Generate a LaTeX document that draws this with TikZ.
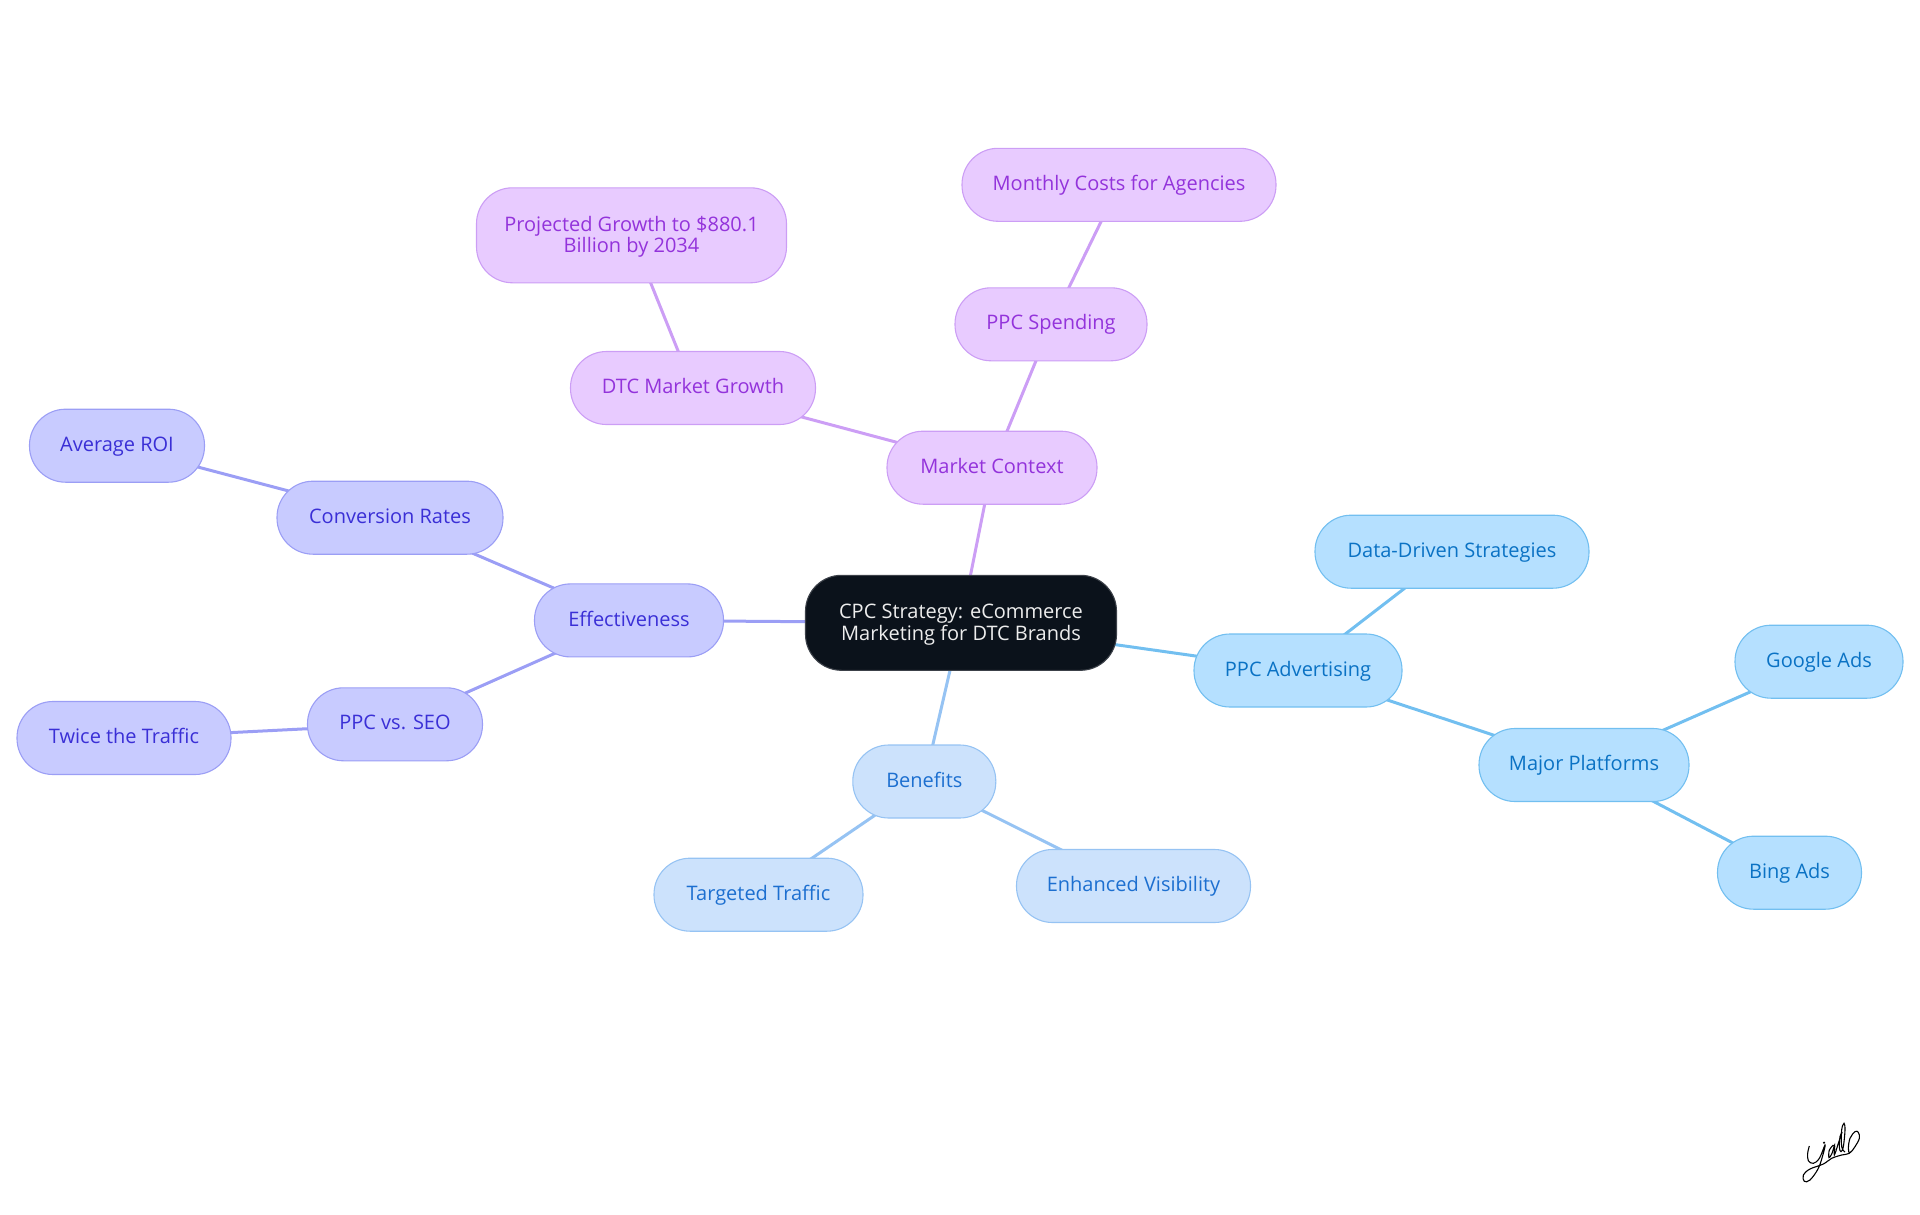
\documentclass[tikz,border=0pt]{standalone}
\usepackage{fontspec}
\setmainfont{Open Sans}
\usetikzlibrary{backgrounds}
\definecolor{rootfill}{HTML}{0B121B}
\definecolor{cyanfill}{HTML}{B5E0FF}
\definecolor{cyanline}{HTML}{72BFF0}
\definecolor{cyantext}{HTML}{0A72C4}
\definecolor{bluefill}{HTML}{CCE2FC}
\definecolor{blueline}{HTML}{96C3F3}
\definecolor{bluetext}{HTML}{1C6FD0}
\definecolor{indfill}{HTML}{C8CBFF}
\definecolor{indline}{HTML}{9B9EF5}
\definecolor{indtext}{HTML}{3A2FD6}
\definecolor{purfill}{HTML}{E8CBFF}
\definecolor{purline}{HTML}{CC9EF5}
\definecolor{purtext}{HTML}{9333DB}
\newcommand{\nodestrut}{\rule[-6.5pt]{0pt}{24.2pt}}
\newcommand{\topstrut}{\rule{0pt}{20pt}}
\tikzstyle{mm} = [rectangle, draw, line width=1.1pt, align=center, rounded corners=36pt,
    minimum height=73pt, inner sep=0pt, font=\fontsize{20}{21.5}\selectfont,
    execute at begin node=\nodestrut, execute at end node=\nodestrut]
\tikzstyle{root} = [mm, fill=rootfill, draw=rootfill!80!white, text=white!93!black, minimum height=95pt]
\tikzstyle{cy} = [mm, fill=cyanfill, draw=cyanline, text=cyantext]
\tikzstyle{bl} = [mm, fill=bluefill, draw=blueline, text=bluetext]
\tikzstyle{ind} = [mm, fill=indfill, draw=indline, text=indtext]
\tikzstyle{pur} = [mm, fill=purfill, draw=purline, text=purtext]

\begin{document}
\begin{tikzpicture}[x=1pt,y=-1pt]
  \useasboundingbox (0,0) rectangle (1920,1215);

  \node[root] (cpc) at (961,622.8) [minimum width=311pt] {\topstrut CPC Strategy: eCommerce\\Marketing for DTC Brands};

  \node[pur] (market) at (992,467.7) [minimum width=210pt] {Market Context};
  \node[pur] (dtc) at (693,388) [minimum width=245pt] {DTC Market Growth};
  \node[pur] (proj) at (631.5,235.3) [minimum width=310pt, minimum height=95pt] {\topstrut Projected Growth to \$880.1\\Billion by 2034};
  \node[pur] (spend) at (1051,324.3) [minimum width=192pt] {PPC Spending};
  \node[pur] (costs) at (1119,184.8) [minimum width=314pt] {Monthly Costs for Agencies};

  \node[ind] (effect) at (629,620.4) [minimum width=189pt] {Effectiveness};
  \node[ind] (conv) at (390,517.7) [minimum width=226pt] {Conversion Rates};
  \node[ind] (roi) at (117,445.7) [minimum width=175pt] {Average ROI};
  \node[ind] (seo) at (395,724.3) [minimum width=175pt] {PPC vs. SEO};
  \node[ind] (twice) at (124,738) [minimum width=214pt] {Twice the Traffic};

  \node[bl] (benefits) at (924.3,781.5) [minimum width=143pt] {Benefits};
  \node[bl] (target) at (758.5,894.7) [minimum width=209pt] {Targeted Traffic};
  \node[bl] (visible) at (1133.5,886) [minimum width=234pt] {Enhanced Visibility};

  \node[cy] (ppc) at (1298,670.5) [minimum width=208pt] {PPC Advertising};
  \node[cy] (data) at (1452,551.7) [minimum width=274pt] {Data-Driven Strategies};
  \node[cy] (major) at (1584,765) [minimum width=210pt] {Major Platforms};
  \node[cy] (google) at (1819,661.7) [minimum width=168pt] {Google Ads};
  \node[cy] (bing) at (1789.5,872.7) [minimum width=144pt] {Bing Ads};

  \begin{pgfonlayer}{background}
  \path[line width=3pt,draw=purline]
        (cpc.center) edge (market.center)
        (market.center) edge (dtc.center)
                        edge (spend.center)
        (dtc.center) edge (proj.center)
        (spend.center) edge (costs.center);
  \path[line width=3pt,draw=indline]
        (cpc.center) edge (effect.center)
        (effect.center) edge (conv.center)
                        edge (seo.center)
        (conv.center) edge (roi.center)
        (seo.center) edge (twice.center);
  \path[line width=3pt,draw=blueline]
        (cpc.center) edge (benefits.center)
        (benefits.center) edge (target.center)
                          edge (visible.center);
  \path[line width=3pt,draw=cyanline]
        (cpc.center) edge (ppc.center)
        (ppc.center) edge (data.center)
                     edge (major.center)
        (major.center) edge (google.center)
                       edge (bing.center);
  \end{pgfonlayer}

  % signature
  \begin{scope}[shift={(1760,1090)},x=0.3333pt,y=-0.3333pt,line width=1.1pt,black]
    \draw plot[smooth,tension=0.6] coordinates {(148,168) (143,190) (145,212) (160,220) (178,205) (195,165) (190,190) (175,235) (150,270) (133,274) (130,255) (150,237) (190,222) (215,205) (245,195) (268,190) (285,170) (298,145) (295,127) (285,125) (270,145) (265,175) (268,190)};
    \draw plot[smooth,tension=0.6] coordinates {(220,165) (208,180) (207,203) (216,190) (224,165) (223,195) (235,160) (245,130) (240,140) (238,172) (243,185) (250,170) (255,120) (252,100) (245,120) (245,170) (255,186)};
    \fill (192,158) circle (3.5);
  \end{scope}
\end{tikzpicture}
\end{document}
